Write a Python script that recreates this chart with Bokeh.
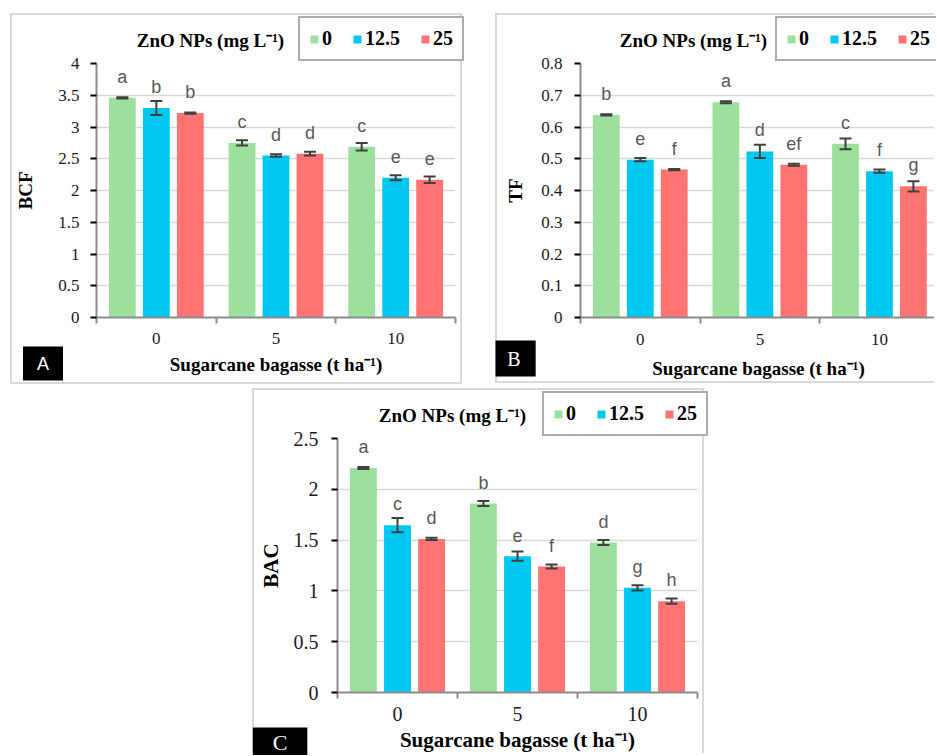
from bokeh.plotting import figure
from bokeh.models import (ColumnDataSource, Range1d, FixedTicker, Whisker, TeeHead,
                          Label, Legend, LegendItem, Spacer, GridBox)
from bokeh.layouts import column, row
from bokeh.embed import file_html
from bokeh.resources import INLINE
from bokeh.core.properties import value
import numpy as np

# ---------------- data ----------------
categories = ["0", "5", "10"]            # Sugarcane bagasse (t ha-1)
series_names = ["0", "12.5", "25"]       # ZnO NPs (mg L-1)
colors = ["#9de09d", "#00c8f0", "#ff7373"]

bcf_0 = [3.46, 2.75, 2.69]
bcf_125 = [3.30, 2.55, 2.20]
bcf_25 = [3.22, 2.58, 2.17]
bcf_err_0 = [0.01, 0.04, 0.06]
bcf_err_125 = [0.11, 0.02, 0.04]
bcf_err_25 = [0.01, 0.03, 0.05]
bcf_letters_0 = ["a", "c", "c"]
bcf_letters_125 = ["b", "d", "e"]
bcf_letters_25 = ["b", "d", "e"]

tf_0 = [0.638, 0.678, 0.547]
tf_125 = [0.497, 0.523, 0.461]
tf_25 = [0.466, 0.481, 0.413]
tf_err_0 = [0.002, 0.003, 0.017]
tf_err_125 = [0.005, 0.021, 0.005]
tf_err_25 = [0.002, 0.003, 0.016]
tf_letters_0 = ["b", "a", "c"]
tf_letters_125 = ["e", "d", "f"]
tf_letters_25 = ["f", "ef", "g"]

bac_0 = [2.21, 1.86, 1.476]
bac_125 = [1.647, 1.342, 1.03]
bac_25 = [1.512, 1.24, 0.899]
bac_err_0 = [0.01, 0.025, 0.025]
bac_err_125 = [0.07, 0.045, 0.025]
bac_err_25 = [0.01, 0.02, 0.025]
bac_letters_0 = ["a", "b", "d"]
bac_letters_125 = ["c", "e", "g"]
bac_letters_25 = ["d", "f", "h"]

bcf_yticks = [0, 0.5, 1, 1.5, 2, 2.5, 3, 3.5, 4]
tf_yticks = [0, 0.1, 0.2, 0.3, 0.4, 0.5, 0.6, 0.7, 0.8]
bac_yticks = [0, 0.5, 1, 1.5, 2, 2.5]

title_text = "ZnO NPs (mg L\u207b\u00b9)"
xlabel_text = "Sugarcane bagasse (t ha\u207b\u00b9)"

SERIF = "Liberation Serif"
SANS = "Liberation Sans"
AXIS_COL = "#8c8c8c"
GRID_COL = "#d9d9d9"
ERR_COL = "#404040"
BORDER = "2px solid #d9d9d9"

offsets = [-0.284, 0.0, 0.284]
bar_w = 0.224


def make_main(series, errs, letters, yticks, ylabel, width, height, mb, x_end,
              tick_fs, axis_fs, x_std, xlab_std, y_std, ylab_std, styles):
    p = figure(width=width, height=height, x_range=Range1d(0, x_end),
               y_range=Range1d(yticks[0], yticks[-1]),
               output_backend="svg", toolbar_location=None,
               min_border_left=mb[0], min_border_right=mb[1],
               min_border_top=mb[2], min_border_bottom=mb[3],
               background_fill_color="white", border_fill_color="white",
               frame_align=False, styles=styles)
    p.outline_line_color = None
    p.xgrid.visible = False

    base = np.arange(len(categories)) + 0.5
    for i in range(3):
        xs = base + offsets[i]
        vals = np.array(series[i])
        e = np.array(errs[i])
        src = ColumnDataSource(dict(x=xs, top=vals, upper=vals + e, lower=vals - e,
                                    letter=letters[i]))
        p.vbar(x="x", top="top", bottom=0, width=bar_w, source=src,
               fill_color=colors[i], line_color=None)
        p.add_layout(Whisker(source=src, base="x", upper="upper", lower="lower",
                             line_color=ERR_COL, line_width=2, level="annotation",
                             upper_head=TeeHead(size=12, line_color=ERR_COL, line_width=2),
                             lower_head=TeeHead(size=12, line_color=ERR_COL, line_width=2)))
        p.text(x="x", y="top", text="letter", source=src, text_align="center",
               text_baseline="alphabetic", y_offset=-21,
               text_font=value(SANS), text_font_size=value("18px"),
               text_color="#595959")

    p.yaxis.ticker = FixedTicker(ticks=yticks)
    p.ygrid.ticker = FixedTicker(ticks=yticks)
    p.yaxis.major_label_overrides = {t: f"{t:g}" for t in yticks}
    p.ygrid.grid_line_color = GRID_COL
    p.ygrid.grid_line_width = 1.5

    centers = list(base)
    p.xaxis.ticker = FixedTicker(ticks=centers,
                                 minor_ticks=list(range(len(categories) + 1)))
    p.xaxis.major_label_overrides = {c: lab for c, lab in zip(centers, categories)}
    p.xaxis.major_tick_line_color = None
    p.xaxis.major_tick_out = 6
    p.xaxis.minor_tick_line_color = AXIS_COL
    p.xaxis.minor_tick_line_width = 2
    p.xaxis.minor_tick_out = 6
    p.xaxis.minor_tick_in = 0
    p.yaxis.major_tick_out = 6
    p.yaxis.major_tick_in = 0
    p.yaxis.minor_tick_line_color = None
    for ax in (p.xaxis, p.yaxis):
        ax.axis_line_color = AXIS_COL
        ax.axis_line_width = 2
        ax.major_tick_line_width = 2
        ax.major_label_text_font = SERIF
        ax.major_label_text_font_size = tick_fs
        ax.major_label_text_color = "#1a1a1a"
        ax.axis_label_text_font = SERIF
        ax.axis_label_text_font_style = "bold"
        ax.axis_label_text_font_size = axis_fs
        ax.axis_label_text_color = "black"
    p.yaxis.major_label_standoff = y_std
    p.yaxis.axis_label = ylabel
    p.yaxis.axis_label_standoff = ylab_std
    p.xaxis.major_label_standoff = x_std
    p.xaxis.axis_label = xlabel_text
    p.xaxis.axis_label_standoff = xlab_std
    return p


def make_overlay(series, width, height, title_xy, legend_xy, letter, letter_xy, letter_font,
                 letter_fs, letter_pad):
    # transparent layer on top of the chart (coordinates: pixels from the panel's top-left)
    o = figure(width=width, height=height, x_range=Range1d(0, width),
               y_range=Range1d(height, 0), x_axis_type=None, y_axis_type=None,
               output_backend="svg", toolbar_location=None, min_border=0,
               min_border_left=0, min_border_right=0, min_border_top=0, min_border_bottom=0,
               frame_align=False,
               outline_line_color=None, background_fill_alpha=0, border_fill_alpha=0)
    base = np.arange(len(categories)) + 0.5
    # zero-height copies of the series: they only supply the legend swatches
    swatches = [o.vbar(x=base + offsets[i], top=series[i], bottom=series[i], width=bar_w,
                       fill_color=colors[i], line_color=None)
                for i in range(3)]
    o.add_layout(Label(x=title_xy[0], y=title_xy[1], text=title_text,
                       text_align="center", text_baseline="middle",
                       text_font=SERIF, text_font_style="bold", text_font_size="19px",
                       text_color="black"))
    o.add_layout(Legend(items=[LegendItem(label=n, renderers=[r])
                               for n, r in zip(series_names, swatches)],
                        orientation="horizontal", location=(legend_xy[0], height - legend_xy[1]),
                        border_line_color="#595959", border_line_width=2,
                        background_fill_color="white", background_fill_alpha=1.0,
                        label_text_font=SERIF, label_text_font_style="bold",
                        label_text_font_size="20px", label_text_color="black",
                        glyph_width=10, glyph_height=10, label_standoff=3,
                        label_width=0, spacing=20, padding=9, margin=0))
    o.add_layout(Label(x=letter_xy[0], y=letter_xy[1], text=letter,
                       text_align="center", text_baseline="middle",
                       text_font=letter_font, text_font_size=letter_fs, text_color="white",
                       background_fill_color="black", padding=letter_pad))
    return o


A_series = [bcf_0, bcf_125, bcf_25]
B_series = [tf_0, tf_125, tf_25]
C_series = [bac_0, bac_125, bac_25]

pA = make_main(A_series, [bcf_err_0, bcf_err_125, bcf_err_25],
               [bcf_letters_0, bcf_letters_125, bcf_letters_25], bcf_yticks, "BCF",
               width=452, height=371, mb=(84, 9, 48, 69), x_end=3,
               tick_fs="17px", axis_fs="19px", x_std=9, xlab_std=7, y_std=11, ylab_std=19,
               styles={"border": BORDER})
oA = make_overlay(A_series, 456, 375, title_xy=(200, 27), legend_xy=(288, 48),
                  letter="A", letter_xy=(32.5, 350), letter_font=SANS, letter_fs="18px",
                  letter_pad=dict(x=14, y=7))

pB = make_main(B_series, [tf_err_0, tf_err_125, tf_err_25],
               [tf_letters_0, tf_letters_125, tf_letters_25], tf_yticks, "TF",
               width=439, height=370, mb=(83, 0, 48, 68), x_end=2.977,
               tick_fs="17px", axis_fs="19px", x_std=10, xlab_std=10, y_std=12, ylab_std=12,
               styles={"border": BORDER, "border-right": "none"})
oB = make_overlay(B_series, 441, 374, title_xy=(198, 27), legend_xy=(280, 48),
                  letter="B", letter_xy=(18.5, 345), letter_font=SERIF, letter_fs="20px",
                  letter_pad=dict(x=15, y=7))

pC = make_main(C_series, [bac_err_0, bac_err_125, bac_err_25],
               [bac_letters_0, bac_letters_125, bac_letters_25], bac_yticks, "BAC",
               width=452, height=365, mb=(83, 9, 48, 63), x_end=3,
               tick_fs="20px", axis_fs="21px", x_std=8, xlab_std=4, y_std=13, ylab_std=8,
               styles={"border": BORDER, "border-bottom": "none"})
oC = make_overlay(C_series, 456, 367, title_xy=(200, 27), legend_xy=(290, 48),
                  letter="C", letter_xy=(27.5, 353.5), letter_font=SERIF, letter_fs="22px",
                  letter_pad=dict(x=20, y=2))

gA = GridBox(children=[(pA, 0, 0), (oA, 0, 0)])
gB = GridBox(children=[(pB, 0, 0), (oB, 0, 0)])
gC = GridBox(children=[(pC, 0, 0), (oC, 0, 0)])

layout = column(
    Spacer(height=13),
    row(Spacer(width=10), gA, Spacer(width=29), gB),
    row(Spacer(width=252), gC),
)

open("out.html", "w").write(file_html(layout, INLINE))
